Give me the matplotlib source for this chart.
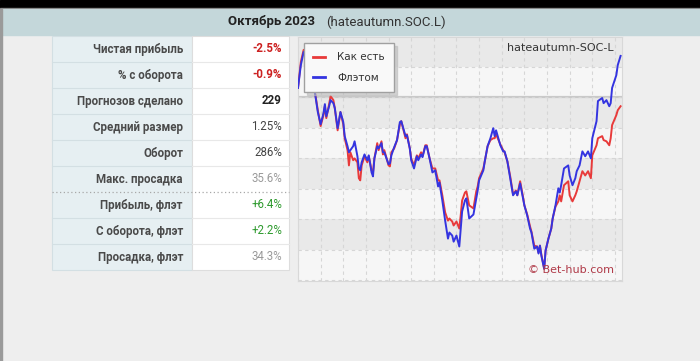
import matplotlib.pyplot as plt
from matplotlib.patches import Rectangle

plt.rcParams['font.family'] = ['Roboto', 'DejaVu Sans']

title_bold = 'Октябрь 2023'
title_rest = '(hateautumn.SOC.L)'
chart_name = 'hateautumn-SOC-L'
watermark = '© Bet-hub.com'

stat_labels = ['Чистая прибыль', '% с оборота', 'Прогнозов сделано', 'Средний размер',
               'Оборот', 'Макс. просадка', 'Прибыль, флэт', 'С оборота, флэт', 'Просадка, флэт']
stat_values = ['-2.5%', '-0.9%', '229', '1.25%', '286%', '35.6%', '+6.4%', '+2.2%', '34.3%']
stat_colors = ['#cc2020', '#cc2020', '#222222', '#444444', '#444444', '#9a9a9a',
               '#2e9a2e', '#2e9a2e', '#9a9a9a']
stat_bold = [True, True, True, False, False, False, False, False, False]

# bet number and running profit (units) for both staking modes
bets = [0, 2, 4, 6, 8, 10, 12, 14, 16, 18, 19, 20, 22, 23, 25, 26, 28, 30, 32, 33,
        35, 36, 37, 39, 40, 42, 43, 44, 45, 47, 49, 50, 52, 53, 54, 56, 57, 59, 60, 61,
        64, 65, 66, 68, 70, 72, 73, 76, 77, 79, 80, 82, 84, 85, 87, 88, 90, 91, 93, 95,
        97, 99, 100, 102, 104, 106, 107, 109, 110, 112, 114, 115, 116, 118, 119, 121, 124, 126, 127, 128,
        131, 132, 134, 136, 138, 139, 140, 143, 145, 146, 148, 150, 152, 154, 155, 157, 159, 160, 162, 164,
        165, 167, 169, 170, 171, 172, 174, 175, 177, 179, 180, 182, 184, 185, 186, 188, 191, 192, 194, 196,
        197, 199, 201, 203, 205, 207, 208, 211, 212, 215, 216, 218, 220, 221, 222, 225, 226, 228]
as_is = [3.0, 11.5, 15.5, 12.8, 8.9, 4.9, 1.6, -4.3, -9.5, -5.9, -3.0, -6.9, -2.3, 0.3, -1.0, -3.6, -10.9, -4.9, -8.9, -13.5,
         -17.4, -22.4, -18.1, -20.7, -20.1, -21.4, -26.6, -27.3, -22.4, -19.4, -21.4, -19.4, -24.0, -24.7, -20.1, -15.1, -17.4, -14.5, -18.8, -17.4,
         -22.4, -22.7, -18.1, -16.8, -14.1, -8.9, -7.9, -13.5, -12.2, -16.8, -20.1, -22.4, -19.1, -20.1, -18.1, -19.4, -15.8, -15.8, -20.1, -23.4,
         -23.4, -27.3, -27.3, -32.2, -37.8, -40.5, -39.8, -40.8, -42.1, -40.8, -43.1, -38.8, -33.9, -31.3, -30.9, -35.5, -36.5, -30.9, -29.3, -26.6,
         -23.4, -21.1, -16.1, -14.1, -13.5, -13.5, -12.2, -15.5, -17.4, -18.1, -21.1, -26.0, -31.9, -30.6, -32.2, -27.6, -32.6, -35.5, -38.5, -42.4,
         -44.1, -48.7, -49.0, -51.0, -48.7, -51.6, -56.3, -50.3, -46.4, -43.1, -39.8, -35.9, -34.2, -32.2, -34.2, -28.9, -27.6, -32.2, -34.2, -32.2,
         -30.9, -27.6, -24.3, -25.7, -24.3, -26.6, -19.1, -15.8, -13.5, -12.8, -14.1, -14.5, -15.8, -13.5, -9.2, -5.9, -4.3, -3.0]
flat = [3.0, 10.5, 14.8, 12.8, 8.2, 4.3, 1.3, -4.9, -8.9, -5.3, -2.3, -6.3, -3.0, -1.0, -2.0, -3.6, -10.2, -4.9, -8.2, -12.8,
        -16.1, -18.1, -17.4, -16.1, -14.5, -19.4, -23.4, -24.0, -21.4, -18.8, -20.7, -19.1, -24.7, -26.0, -20.1, -16.1, -16.8, -15.1, -18.1, -18.1,
        -22.0, -21.7, -19.1, -16.4, -14.1, -8.2, -7.9, -12.8, -12.5, -16.8, -20.7, -23.4, -19.4, -20.7, -18.8, -19.7, -16.1, -16.1, -20.1, -24.7,
        -24.0, -29.3, -28.0, -33.9, -40.5, -46.4, -44.4, -45.4, -47.4, -45.4, -49.0, -43.1, -37.5, -33.9, -33.2, -39.8, -38.5, -33.2, -30.6, -27.3,
        -24.0, -21.1, -16.1, -13.5, -10.2, -12.8, -10.9, -15.8, -17.8, -17.8, -21.1, -26.6, -32.2, -30.9, -32.2, -28.3, -33.2, -35.5, -38.8, -43.1,
        -44.4, -49.7, -49.0, -51.3, -48.7, -52.0, -56.3, -50.3, -46.4, -43.1, -39.8, -35.5, -29.9, -31.3, -28.9, -23.4, -22.4, -25.7, -28.9, -26.6,
        -24.3, -22.4, -17.8, -19.4, -17.8, -20.1, -13.5, -7.9, -1.3, -0.3, -2.0, -1.0, -3.0, -2.0, 3.0, 7.2, 10.5, 13.5]

fig = plt.figure(figsize=(7, 3.61), dpi=100)
fig.patch.set_facecolor('#eeeeee')

# page background, header and stats table drawn in pixel coordinates
bg = fig.add_axes([0, 0, 1, 1])
bg.set_xlim(0, 700)
bg.set_ylim(361, 0)
bg.axis('off')
bg.add_patch(Rectangle((0, 0), 700, 7.5, color='black'))
bg.add_patch(Rectangle((0, 7.5), 700, 1.5, color='#7a7a7a'))
bg.add_patch(Rectangle((0, 9), 700, 26, color='#c4d7da'))
bg.add_patch(Rectangle((0, 9), 1.5, 352, color='#9a9a9a'))
bg.text(315, 22, title_bold, ha='right', va='center', fontsize=9.5, fontweight='bold', color='#222222')
bg.text(326, 22, title_rest, ha='left', va='center', fontsize=9.5, color='#333333')

row_h = 26
top = 36
bg.add_patch(Rectangle((52, top), 140, row_h * len(stat_labels), facecolor='#e6eff2', edgecolor='#d3dfe3', lw=0.8))
bg.add_patch(Rectangle((192, top), 97, row_h * len(stat_labels), facecolor='white', edgecolor='#dddddd', lw=0.8))
for i, (lab, val, col, b) in enumerate(zip(stat_labels, stat_values, stat_colors, stat_bold)):
    yc = top + row_h * i + row_h / 2
    if i > 0:
        y0 = top + row_h * i
        if i == 6:
            bg.plot([52, 289], [y0, y0], color='#a8a8a8', lw=0.9, ls=(0, (1, 2)))
        else:
            bg.plot([52, 192], [y0, y0], color='#d3dfe3', lw=0.8)
            bg.plot([192, 289], [y0, y0], color='#e8e8e8', lw=0.8)
    bg.text(183, yc, lab, ha='right', va='center', fontsize=8.3, fontweight='bold', color='#4a4a4a')
    bg.text(282, yc, val, ha='right', va='center', fontsize=8.3,
            fontweight='bold' if b else 'normal', color=col)

# equity chart
ax = fig.add_axes([298 / 700, 1 - 281 / 361, 324 / 700, 244 / 361])
ax.set_facecolor('#f6f6f6')
ax.set_xlim(0, 229)
ax.set_ylim(-60.3, 19.7)
for lo in (-50, -30, -10, 10):
    ax.axhspan(lo, lo + 10, color='#e9e9e9', lw=0, zorder=0)
ax.set_xticks(range(0, 229, 16))
ax.set_yticks(range(-60, 20, 10))
ax.grid(True, color='#d6d6d6', lw=0.8, ls=(0, (3, 3)))
ax.axhline(0, color='#c9c9c9', lw=1.6, zorder=1)
ax.tick_params(left=False, bottom=False, labelleft=False, labelbottom=False)
for s in ax.spines.values():
    s.set_color('#d8d8d8')

ax.plot(bets, as_is, color='#e83a3a', lw=1.4, label='Как есть', zorder=3)
ax.plot(bets, flat, color='#3434e0', lw=1.4, label='Флэтом', zorder=4)

leg = ax.legend(loc='upper left', bbox_to_anchor=(0.018, 0.975), borderaxespad=0,
                fontsize=7.5, handlelength=1.1, handletextpad=1.2, labelspacing=1.0,
                borderpad=0.9, fancybox=False, framealpha=1, facecolor='#f9f9f9',
                edgecolor='#a0a0a0', shadow={'color': '#bbbbbb', 'alpha': 0.6},
                prop={'family': 'DejaVu Sans', 'size': 7.5})
for t in leg.get_texts():
    t.set_color('#333333')
for h in leg.legend_handles:
    h.set_linewidth(2)
leg.set_zorder(10)

ax.text(0.975, 0.955, chart_name, transform=ax.transAxes, ha='right', va='center',
        fontsize=8, family='DejaVu Sans', color='#333333')
ax.text(0.975, 0.045, watermark, transform=ax.transAxes, ha='right', va='center',
        fontsize=8, family='DejaVu Sans', color='#b03a48', zorder=6)

fig.savefig('out.png', dpi=100, facecolor=fig.get_facecolor())
